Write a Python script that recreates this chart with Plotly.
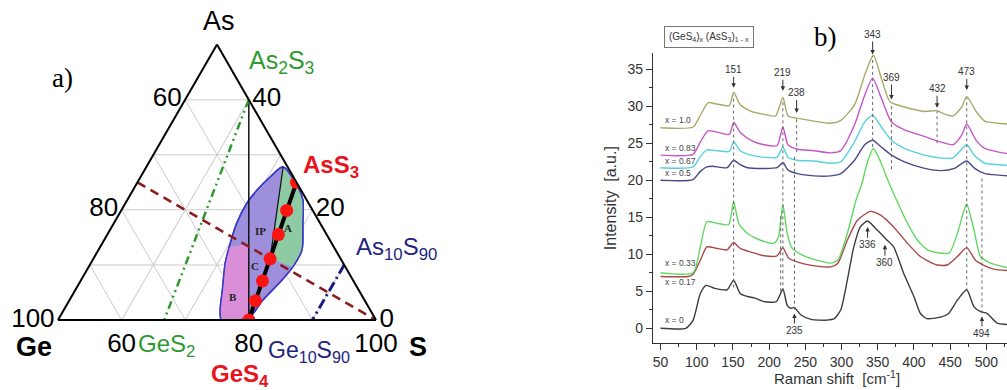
import plotly.graph_objects as go

W, H = 1007, 390
SANS = "Arial, Liberation Sans, sans-serif"
SERIF = "Times New Roman, Liberation Serif, serif"

# ---------------- Panel a) : compositions in atomic % (As, Ge, S) ----------------
AS2S3 = (40.0, 0.0, 60.0)
GES2 = (0.0, 33.3, 66.7)
GES4 = (0.0, 20.0, 80.0)
ASS3 = (25.0, 0.0, 75.0)
AS10S90 = (10.0, 0.0, 90.0)
GE10S90 = (0.0, 10.0, 90.0)
GEAS_S50 = (25.0, 25.0, 50.0)
S_CORNER = (0.0, 0.0, 100.0)

# (GeS4)x(AsS3)1-x glasses
dot_x = [0, 0.17, 0.33, 0.5, 0.67, 0.83, 1.0]
dot_As = [25.0, 19.9, 15.5, 11.1, 7.1, 3.5, 0.0]
dot_Ge = [0.0, 4.1, 7.6, 11.1, 14.3, 17.2, 20.0]
dot_S = [75.0, 76.0, 76.9, 77.8, 78.6, 79.3, 80.0]

# glass-forming lens and its sub-regions (As %, S %)
lens_As = [27.8, 24.5, 21.8, 17.6, 12.7, 9.6, 6.9, 3.6, 0.5, 0.0, 0.0, 1.8, 5.5, 10.4, 14.0, 17.6, 21.2, 23.6, 26.0, 27.8]
lens_S = [71.5, 75.3, 77.6, 79.7, 82.0, 82.1, 81.5, 80.4, 79.9, 78.6, 75.7, 74.6, 73.1, 71.1, 70.1, 69.3, 69.1, 69.5, 70.4, 71.5]
regA_As = [27.8, 24.5, 21.8, 17.6, 12.7, 9.6, 11.1, 27.8]
regA_S = [71.5, 75.3, 77.6, 79.7, 82.0, 82.1, 77.8, 71.5]
regB_As = [13.2, 13.8, 0.0, 0.0, 1.8, 5.5, 10.4, 13.2]
regB_S = [70.3, 73.1, 80.0, 75.7, 74.6, 73.1, 71.1, 70.3]
ipa_As = [27.8, 11.1]
ipa_S = [71.5, 77.8]

# ternary tick labels
a_tickvals = [0, 10, 20, 30, 40]
a_ticktext = ["100", " ", "80", " ", "60"]
b_tickvals = [0, 10, 20, 30, 40]
b_ticktext = ["100", " ", "80", " ", "60"]
c_tickvals = [60, 70, 80, 90, 100]
c_ticktext = ["40", " ", "20", " ", "0"]

# ---------------- Panel b) : Raman spectra ----------------
S0 = [50, 85, 95, 105, 113, 125, 142, 151, 160, 170, 180, 193, 210, 219, 225, 230, 235, 244, 258, 280, 290, 299, 308, 317, 326, 336, 349, 362, 372, 386, 400, 409, 418, 437, 448, 460, 473, 483, 492, 501, 515, 530]
I0 = [0, 0, 1.1, 4.7, 5.8, 5.4, 5.2, 6.5, 4.7, 4.3, 4.1, 3.6, 3.6, 5.3, 3.1, 2.7, 2.8, 1.8, 1.2, 1.1, 1.3, 2.5, 6.5, 11.0, 13.7, 14.5, 13.3, 12.0, 11.0, 7.4, 4.3, 2.0, 1.3, 1.5, 2.0, 3.8, 5.2, 2.9, 2.25, 2.0, 0.7, 0.5]
S17 = [50, 88, 95, 105, 114, 128, 142, 151, 160, 175, 193, 211, 219, 227, 235, 248, 266, 285, 295, 308, 322, 340, 354, 372, 391, 409, 432, 446, 460, 473, 485, 496, 510, 530]
I17 = [7.0, 7.0, 7.3, 9.2, 11.0, 10.8, 10.6, 11.6, 10.8, 10.3, 9.8, 9.8, 10.9, 9.45, 9.1, 8.7, 8.4, 8.3, 8.8, 11.9, 14.6, 15.8, 15.3, 13.7, 11.5, 9.7, 8.55, 8.55, 9.7, 10.9, 9.2, 8.55, 8.0, 7.8]
S33 = [50, 95, 105, 114, 128, 144, 151, 158, 170, 188, 207, 213, 219, 225, 232, 248, 266, 285, 295, 308, 320, 328, 336, 344, 354, 364, 378, 391, 405, 419, 433, 449, 460, 468, 473, 483, 492, 506, 520, 530]
I33 = [7.5, 7.5, 11.0, 14.4, 14.2, 14.0, 17.1, 14.2, 12.8, 11.9, 11.5, 12.4, 16.7, 12.8, 10.8, 9.8, 9.2, 8.8, 9.2, 12.8, 17.3, 19.5, 22.5, 24.3, 22.5, 20.0, 16.9, 14.2, 11.9, 10.6, 10.2, 10.2, 12.8, 15.5, 16.8, 13.3, 9.7, 8.8, 8.4, 8.2]
S50 = [50, 95, 105, 114, 122, 142, 151, 160, 170, 193, 211, 219, 226, 239, 262, 285, 299, 318, 332, 343, 355, 369, 387, 415, 438, 456, 473, 484, 498, 517, 530]
I50 = [20.0, 20.1, 21.2, 21.8, 21.9, 21.7, 22.7, 22.1, 21.7, 21.6, 21.7, 22.4, 21.4, 20.9, 20.6, 20.6, 20.9, 22.7, 24.8, 25.4, 24.5, 23.4, 22.5, 21.6, 21.3, 21.6, 22.6, 21.6, 20.9, 20.7, 20.6]
S67 = [50, 95, 105, 114, 128, 145, 151, 160, 175, 193, 211, 219, 226, 239, 262, 285, 299, 318, 332, 343, 355, 369, 387, 415, 438, 454, 473, 484, 498, 517, 530]
I67 = [21.7, 21.8, 23.2, 24.1, 24.0, 23.9, 25.2, 24.0, 23.4, 23.1, 23.1, 24.5, 23.1, 22.7, 22.6, 22.3, 22.5, 25.2, 27.9, 28.8, 27.2, 25.4, 24.3, 23.4, 23.0, 23.0, 24.8, 23.3, 22.3, 22.1, 22.0]
S83 = [50, 95, 105, 116, 128, 145, 151, 160, 175, 193, 211, 219, 226, 239, 262, 285, 299, 318, 332, 343, 355, 369, 387, 415, 436, 454, 466, 473, 486, 498, 517, 530]
I83 = [23.4, 23.5, 25.2, 26.7, 26.5, 26.2, 27.8, 26.5, 25.4, 24.8, 24.7, 27.2, 24.8, 24.2, 24.0, 23.7, 24.0, 27.5, 31.5, 33.8, 31.1, 27.9, 26.8, 25.9, 25.2, 24.8, 26.1, 27.6, 25.4, 24.3, 23.8, 23.6]
S100 = [50, 95, 105, 116, 128, 145, 151, 160, 175, 193, 209, 219, 226, 238, 262, 285, 299, 318, 332, 344, 355, 367, 387, 415, 432, 441, 454, 466, 473, 486, 498, 517, 530]
I100 = [27.1, 27.2, 28.8, 30.5, 30.3, 30.1, 31.9, 30.2, 29.3, 28.9, 28.7, 31.2, 28.7, 28.4, 28.0, 27.7, 28.1, 30.2, 34.2, 36.9, 33.8, 30.6, 29.9, 29.3, 29.4, 29.0, 28.7, 29.9, 31.3, 29.3, 28.0, 27.7, 27.6]

spectra = [
    ("x = 0", S0, I0, "#3c3c3c", 1.1),
    ("x = 0.17", S17, I17, "#a84848", 6.2),
    ("x = 0.33", S33, I33, "#62d862", 8.8),
    ("x = 0.5", S50, I50, "#4a4a88", 21.0),
    ("x = 0.67", S67, I67, "#55d2de", 22.6),
    ("x = 0.83", S83, I83, "#c656c8", 24.3),
    ("x = 1.0", S100, I100, "#a9a96a", 28.2),
]

# peak labels: (text, position, arrow tip intensity, text offset px)
peak_labels = [
    ("151", 151, 32.5, -18), ("219", 219, 32.1, -18), ("238", 238, 29.1, -20),
    ("343", 343, 37.0, -20), ("369", 369, 30.9, -22), ("432", 432, 29.8, -19),
    ("473", 473, 32.2, -18), ("336", 336, 13.7, 18), ("360", 360, 11.3, 18),
    ("235", 235, 2.0, 17), ("494", 494, 1.6, 17),
]
# dotted reference lines: (position, from, to)
ref_lines = [(151, 5.5, 31.5), (216, 5.0, 15.5), (219, 5.0, 31.0), (235, 2.5, 23.5),
             (238, 23.8, 28.3), (343, 24.5, 36.8), (369, 21.5, 30.3), (432, 25.0, 29.3),
             (473, 5.0, 31.2), (494, 2.0, 20.5)]


def ge(as_list, s_list):
    return [round(100 - a - s, 2) for a, s in zip(as_list, s_list)]


fig = go.Figure()


def tline(p, q, color, width, dash="solid"):
    fig.add_trace(go.Scatterternary(
        a=[p[0], q[0]], b=[p[1], q[1]], c=[p[2], q[2]], mode="lines",
        line=dict(color=color, width=width, dash=dash), showlegend=False, hoverinfo="skip"))


fig.add_trace(go.Scatterternary(a=lens_As, b=ge(lens_As, lens_S), c=lens_S, mode="lines",
                                fill="toself", fillcolor="#9d8fdc",
                                line=dict(color="#3c3cc8", width=1.5, shape="spline", smoothing=0.8),
                                showlegend=False, hoverinfo="skip"))
fig.add_trace(go.Scatterternary(a=regA_As, b=ge(regA_As, regA_S), c=regA_S, mode="lines",
                                fill="toself", fillcolor="#8ecaa4", line=dict(width=0, color="#8ecaa4"),
                                showlegend=False, hoverinfo="skip"))
fig.add_trace(go.Scatterternary(a=regB_As, b=ge(regB_As, regB_S), c=regB_S, mode="lines",
                                fill="toself", fillcolor="#da8ed8", line=dict(width=0, color="#da8ed8"),
                                showlegend=False, hoverinfo="skip"))
fig.add_trace(go.Scatterternary(a=lens_As, b=ge(lens_As, lens_S), c=lens_S, mode="lines",
                                line=dict(color="#3c3cc8", width=1.5, shape="spline", smoothing=0.8),
                                showlegend=False, hoverinfo="skip"))
tline(AS2S3, GES4, "#111111", 1.5)
fig.add_trace(go.Scatterternary(a=ipa_As, b=ge(ipa_As, ipa_S), c=ipa_S, mode="lines",
                                line=dict(color="#111111", width=1.2), showlegend=False, hoverinfo="skip"))
tline(AS2S3, GES2, "#2e9a2e", 2.5, "8px,4px,2px,4px,2px,4px")
tline(AS10S90, GE10S90, "#1c1c84", 3, "10px,4px,2px,4px")
tline(GEAS_S50, S_CORNER, "#8a1c1c", 2.5, "9px,6px")
tline(ASS3, GES4, "#000000", 4)
fig.add_trace(go.Scatterternary(a=dot_As, b=dot_Ge, c=dot_S, mode="markers",
                                marker=dict(color="#ff1414", size=13, line=dict(width=0)),
                                showlegend=False, hoverinfo="skip"))

# ---- spectra ----
for name, xs, ys, col, ylab in spectra:
    fig.add_trace(go.Scatter(x=xs, y=ys, mode="lines", name=name,
                             line=dict(color=col, width=1.4, shape="spline", smoothing=0.6),
                             showlegend=False, hoverinfo="skip", xaxis="x", yaxis="y"))

shapes = []
for xv, y0, y1 in ref_lines:
    shapes.append(dict(type="line", xref="x", yref="y", x0=xv, x1=xv, y0=y0, y1=y1,
                       line=dict(color="#666666", width=1, dash="dot")))

ann = []
for txt, xv, tip, off in peak_labels:
    ann.append(dict(text=txt, x=xv, y=tip, xref="x", yref="y", ax=0, ay=off,
                    showarrow=True, arrowhead=2, arrowsize=0.9, arrowwidth=1, arrowcolor="#333333",
                    font=dict(family=SANS, size=10, color="#333333")))
for name, xs, ys, col, ylab in spectra:
    ann.append(dict(text=name, x=53, y=ylab, xref="x", yref="y", xanchor="left", showarrow=False,
                    font=dict(family=SANS, size=8.5, color="#444444")))


def P(px):
    return px / W


def Q(py):
    return 1 - py / H


def lbl(text, px, py, size=26, color="black", family=SANS):
    ann.append(dict(text=text, x=P(px), y=Q(py), xref="paper", yref="paper", showarrow=False,
                    xanchor="center", yanchor="middle", font=dict(family=family, size=size, color=color)))


lbl("As", 219, 21, 27)
lbl("a)", 62, 78, 27, family=SERIF)
lbl("As<sub>2</sub>S<sub>3</sub>", 281, 62, 25, "#2e9a2e")
lbl("<b>AsS<sub>3</sub></b>", 331, 166, 24, "#e8141c")
lbl("As<sub>10</sub>S<sub>90</sub>", 396, 249, 24, "#24247e")
lbl("<b>Ge</b>", 34, 347, 27)
lbl("GeS<sub>2</sub>", 166, 345, 24, "#2e9a2e")
lbl("Ge<sub>10</sub>S<sub>90</sub>", 309, 351, 23, "#24247e")
lbl("<b>S</b>", 418, 347, 27)
lbl("<b>GeS<sub>4</sub></b>", 240, 375, 24, "#e8141c")
lbl("<b>IP</b>", 260, 231, 11, "#222222", SERIF)
lbl("<b>A</b>", 288, 228, 11, "#222222", SERIF)
lbl("<b>C</b>", 255, 266, 11, "#222222", SERIF)
lbl("<b>B</b>", 233, 297, 11, "#222222", SERIF)
lbl("b)", 825, 37, 27, family=SERIF)
lbl("Raman shift  [cm<sup>-1</sup>]", 837, 377, 15, "#333333")
ann.append(dict(text="(GeS<sub>4</sub>)<sub>x</sub> (AsS<sub>3</sub>)<sub>1 - x</sub>", x=P(709), y=Q(37),
                xref="paper", yref="paper", xanchor="center", yanchor="middle", showarrow=False,
                bordercolor="#777777", borderwidth=1, borderpad=4,
                font=dict(family=SANS, size=10, color="#333333")))

tern_axis = dict(ticks="", showgrid=True, gridcolor="#cccccc", gridwidth=1, linecolor="black",
                 linewidth=2, tickmode="array", tickfont=dict(family=SANS, size=26, color="black"),
                 title=dict(text=""))

fig.update_layout(
    width=W, height=H, margin=dict(l=0, r=0, t=0, b=0),
    paper_bgcolor="white", plot_bgcolor="white",
    ternary=dict(
        domain=dict(x=[58 / W, 376 / W], y=[1 - 320 / H, 1 - 44.6 / H]),
        sum=100, bgcolor="white",
        aaxis=dict(tern_axis, min=0, tickvals=a_tickvals, ticktext=a_ticktext),
        baxis=dict(tern_axis, min=0, tickvals=b_tickvals, ticktext=b_ticktext),
        caxis=dict(tern_axis, min=50, tickvals=c_tickvals, ticktext=c_ticktext),
    ),
    xaxis=dict(domain=[653 / W, 1.0], range=[39.6, 528.6], tickmode="array",
               tickvals=[50, 100, 150, 200, 250, 300, 350, 400, 450, 500],
               ticks="outside", ticklen=6, tickwidth=1, tickcolor="#333333",
               minor=dict(ticks="outside", ticklen=3, tickcolor="#333333",
                          tickvals=[75, 125, 175, 225, 275, 325, 375, 425, 475, 525]),
               showline=True, linecolor="#333333", linewidth=1.2, showgrid=False, zeroline=False,
               tickfont=dict(family=SANS, size=14, color="#333333")),
    yaxis=dict(domain=[1 - 343.3 / H, 1 - 53 / H], range=[-2.03, 37.2], tickmode="array",
               tickvals=[0, 5, 10, 15, 20, 25, 30, 35],
               ticks="outside", ticklen=6, tickwidth=1, tickcolor="#333333",
               minor=dict(ticks="outside", ticklen=3, tickcolor="#333333",
                          tickvals=[-2.5, 2.5, 7.5, 12.5, 17.5, 22.5, 27.5, 32.5]),
               showline=True, linecolor="#333333", linewidth=1.2, showgrid=False, zeroline=False,
               tickfont=dict(family=SANS, size=14, color="#333333"),
               title=dict(text="Intensity  [a.u.]", standoff=6,
                          font=dict(family=SANS, size=16, color="#333333"))),
    shapes=shapes, annotations=ann,
)

fig.write_html("out.html")
